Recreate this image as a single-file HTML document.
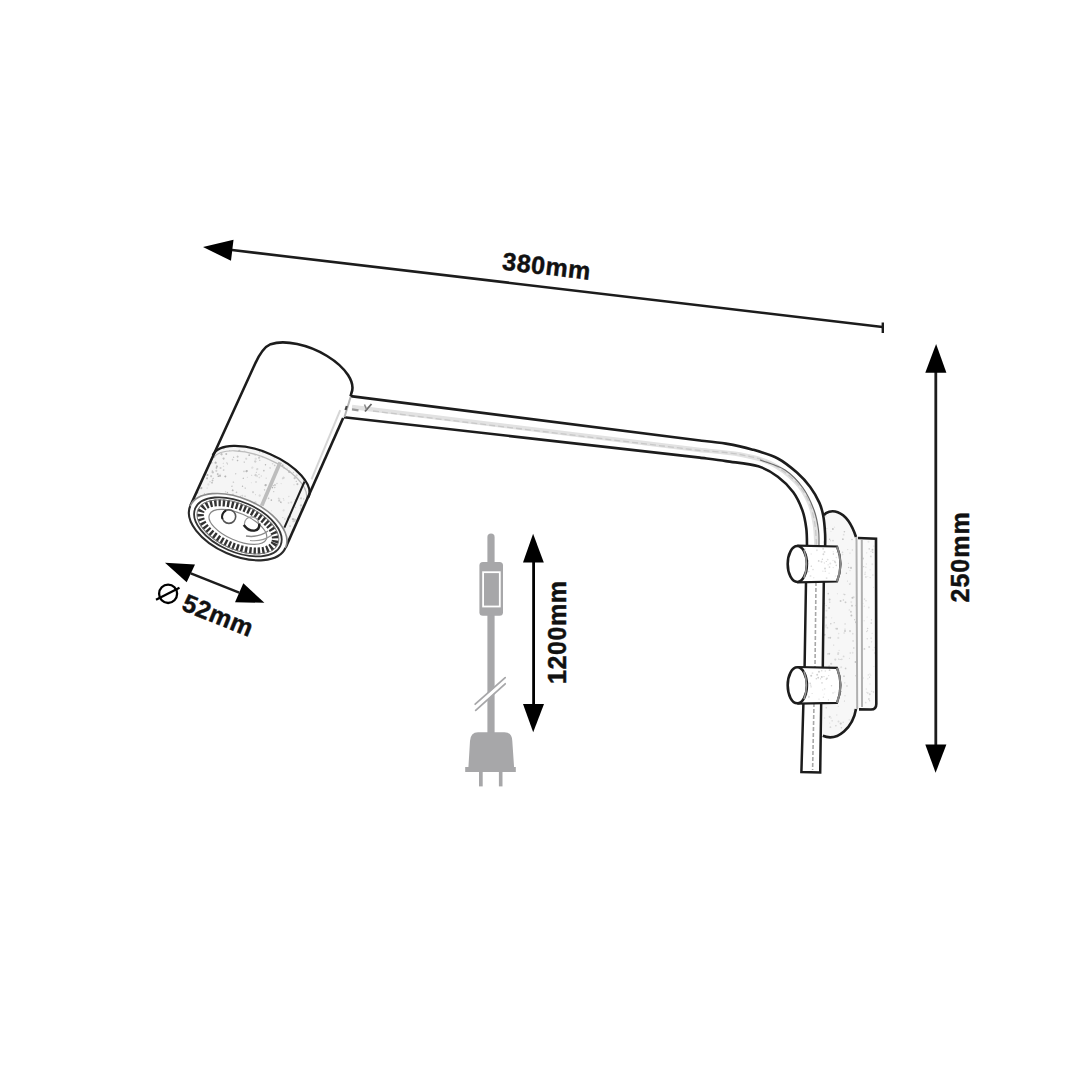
<!DOCTYPE html>
<html><head><meta charset="utf-8"><style>
html,body{margin:0;padding:0;background:#fff;}
svg{display:block;}
.t{font-family:"Liberation Sans",sans-serif;font-weight:bold;font-size:25px;fill:#111;stroke:#111;stroke-width:0.45px;}
</style></head><body>
<svg width="1080" height="1080" viewBox="0 0 1080 1080">
<rect width="1080" height="1080" fill="#fff"/>
<clipPath id="plateclip"><path d="M823.8 515.3 C828 509, 846 506, 856 537 L857 709 C853 727, 838 742, 822.8 735.8 Z"/></clipPath>
<g clip-path="url(#plateclip)"><rect x="815" y="505" width="50" height="240" fill="#f7f7f7"/><circle cx="838.3" cy="637.9" r="1.05" fill="rgb(224,224,224)"/><circle cx="838.3" cy="706.4" r="0.61" fill="rgb(227,227,227)"/><circle cx="839.1" cy="650.4" r="0.61" fill="rgb(223,223,223)"/><circle cx="832.9" cy="529.0" r="0.99" fill="rgb(197,197,197)"/><circle cx="843.4" cy="599.9" r="0.77" fill="rgb(205,205,205)"/><circle cx="844.4" cy="701.0" r="0.54" fill="rgb(197,197,197)"/><circle cx="828.8" cy="564.1" r="0.52" fill="rgb(224,224,224)"/><circle cx="833.7" cy="645.1" r="0.62" fill="rgb(209,209,209)"/><circle cx="845.1" cy="623.9" r="0.90" fill="rgb(224,224,224)"/><circle cx="845.6" cy="602.4" r="0.83" fill="rgb(200,200,200)"/><circle cx="847.5" cy="581.1" r="0.64" fill="rgb(213,213,213)"/><circle cx="823.1" cy="638.6" r="0.56" fill="rgb(201,201,201)"/><circle cx="852.5" cy="597.7" r="1.07" fill="rgb(195,195,195)"/><circle cx="829.7" cy="723.1" r="0.53" fill="rgb(219,219,219)"/><circle cx="857.3" cy="600.2" r="0.54" fill="rgb(207,207,207)"/><circle cx="850.0" cy="570.6" r="0.55" fill="rgb(216,216,216)"/><circle cx="822.5" cy="603.1" r="1.05" fill="rgb(203,203,203)"/><circle cx="830.9" cy="531.4" r="0.54" fill="rgb(226,226,226)"/><circle cx="828.4" cy="637.8" r="0.77" fill="rgb(207,207,207)"/><circle cx="857.5" cy="686.5" r="0.75" fill="rgb(219,219,219)"/><circle cx="826.2" cy="605.6" r="0.63" fill="rgb(212,212,212)"/><circle cx="853.1" cy="734.2" r="0.86" fill="rgb(196,196,196)"/><circle cx="829.6" cy="599.5" r="1.01" fill="rgb(201,201,201)"/><circle cx="823.5" cy="542.0" r="0.76" fill="rgb(195,195,195)"/><circle cx="849.8" cy="584.3" r="0.68" fill="rgb(199,199,199)"/><circle cx="824.7" cy="556.4" r="0.88" fill="rgb(195,195,195)"/><circle cx="843.6" cy="594.2" r="0.77" fill="rgb(225,225,225)"/><circle cx="852.0" cy="539.5" r="0.73" fill="rgb(204,204,204)"/><circle cx="833.2" cy="561.0" r="0.87" fill="rgb(207,207,207)"/><circle cx="827.7" cy="653.9" r="0.83" fill="rgb(219,219,219)"/><circle cx="853.8" cy="648.0" r="0.75" fill="rgb(201,201,201)"/><circle cx="825.9" cy="626.9" r="0.65" fill="rgb(220,220,220)"/><circle cx="831.3" cy="699.1" r="0.86" fill="rgb(213,213,213)"/><circle cx="840.7" cy="723.6" r="1.09" fill="rgb(203,203,203)"/><circle cx="830.2" cy="637.8" r="1.01" fill="rgb(199,199,199)"/><circle cx="832.1" cy="720.8" r="0.62" fill="rgb(196,196,196)"/><circle cx="824.5" cy="603.5" r="0.65" fill="rgb(197,197,197)"/><circle cx="828.3" cy="593.6" r="0.84" fill="rgb(203,203,203)"/><circle cx="825.3" cy="540.1" r="0.77" fill="rgb(216,216,216)"/><circle cx="845.6" cy="668.4" r="0.85" fill="rgb(203,203,203)"/><circle cx="843.2" cy="722.3" r="0.78" fill="rgb(217,217,217)"/><circle cx="847.2" cy="731.4" r="0.51" fill="rgb(199,199,199)"/><circle cx="839.4" cy="677.5" r="0.69" fill="rgb(199,199,199)"/><circle cx="824.7" cy="634.7" r="0.94" fill="rgb(203,203,203)"/><circle cx="850.6" cy="720.3" r="0.71" fill="rgb(225,225,225)"/><circle cx="854.4" cy="710.1" r="0.75" fill="rgb(196,196,196)"/><circle cx="853.1" cy="640.9" r="0.87" fill="rgb(219,219,219)"/><circle cx="835.7" cy="510.9" r="0.54" fill="rgb(200,200,200)"/><circle cx="845.0" cy="738.5" r="1.03" fill="rgb(216,216,216)"/><circle cx="836.0" cy="678.5" r="0.85" fill="rgb(223,223,223)"/><circle cx="838.7" cy="633.6" r="0.81" fill="rgb(227,227,227)"/><circle cx="823.1" cy="647.5" r="0.79" fill="rgb(209,209,209)"/><circle cx="856.5" cy="534.2" r="0.97" fill="rgb(226,226,226)"/><circle cx="831.2" cy="510.6" r="0.68" fill="rgb(207,207,207)"/><circle cx="840.7" cy="682.9" r="0.71" fill="rgb(223,223,223)"/><circle cx="839.9" cy="564.0" r="0.74" fill="rgb(211,211,211)"/><circle cx="829.1" cy="608.0" r="0.98" fill="rgb(207,207,207)"/><circle cx="853.7" cy="597.2" r="0.85" fill="rgb(215,215,215)"/><circle cx="829.6" cy="539.2" r="0.71" fill="rgb(197,197,197)"/><circle cx="847.6" cy="728.4" r="0.67" fill="rgb(205,205,205)"/><circle cx="826.1" cy="617.4" r="1.06" fill="rgb(221,221,221)"/><circle cx="835.8" cy="628.6" r="0.90" fill="rgb(223,223,223)"/><circle cx="833.5" cy="700.3" r="0.67" fill="rgb(197,197,197)"/><circle cx="846.4" cy="573.2" r="0.71" fill="rgb(196,196,196)"/><circle cx="845.1" cy="602.0" r="0.61" fill="rgb(212,212,212)"/><circle cx="830.5" cy="540.7" r="0.53" fill="rgb(202,202,202)"/><circle cx="838.1" cy="654.2" r="0.89" fill="rgb(218,218,218)"/><circle cx="856.5" cy="666.8" r="0.62" fill="rgb(225,225,225)"/><circle cx="831.2" cy="673.7" r="0.95" fill="rgb(229,229,229)"/><circle cx="847.7" cy="549.6" r="0.66" fill="rgb(217,217,217)"/><circle cx="841.4" cy="727.7" r="0.80" fill="rgb(205,205,205)"/><circle cx="836.2" cy="691.7" r="1.04" fill="rgb(200,200,200)"/><circle cx="836.8" cy="715.1" r="0.73" fill="rgb(223,223,223)"/><circle cx="838.3" cy="653.1" r="1.05" fill="rgb(219,219,219)"/><circle cx="841.8" cy="659.4" r="0.80" fill="rgb(216,216,216)"/><circle cx="838.7" cy="659.1" r="0.62" fill="rgb(202,202,202)"/><circle cx="829.7" cy="716.8" r="1.09" fill="rgb(214,214,214)"/><circle cx="841.3" cy="691.5" r="0.69" fill="rgb(196,196,196)"/><circle cx="834.5" cy="527.2" r="0.76" fill="rgb(230,230,230)"/><circle cx="837.2" cy="571.9" r="1.05" fill="rgb(208,208,208)"/><circle cx="851.1" cy="522.9" r="0.98" fill="rgb(206,206,206)"/><circle cx="841.2" cy="667.3" r="1.05" fill="rgb(225,225,225)"/><circle cx="827.4" cy="627.8" r="0.93" fill="rgb(223,223,223)"/><circle cx="856.0" cy="622.3" r="1.07" fill="rgb(200,200,200)"/><circle cx="849.3" cy="609.9" r="0.84" fill="rgb(230,230,230)"/><circle cx="845.0" cy="629.3" r="1.01" fill="rgb(230,230,230)"/><circle cx="831.2" cy="663.7" r="1.07" fill="rgb(208,208,208)"/><circle cx="833.0" cy="540.7" r="0.83" fill="rgb(212,212,212)"/><circle cx="842.6" cy="554.6" r="0.82" fill="rgb(227,227,227)"/><circle cx="822.2" cy="595.5" r="0.82" fill="rgb(197,197,197)"/><circle cx="840.6" cy="600.9" r="0.98" fill="rgb(202,202,202)"/><circle cx="839.7" cy="668.3" r="0.54" fill="rgb(229,229,229)"/><circle cx="838.5" cy="721.6" r="0.98" fill="rgb(220,220,220)"/><circle cx="831.7" cy="617.8" r="0.58" fill="rgb(222,222,222)"/><circle cx="854.4" cy="725.1" r="1.05" fill="rgb(228,228,228)"/><circle cx="833.4" cy="552.4" r="0.87" fill="rgb(211,211,211)"/><circle cx="826.7" cy="688.8" r="0.51" fill="rgb(207,207,207)"/><circle cx="827.6" cy="510.7" r="0.67" fill="rgb(217,217,217)"/><circle cx="830.8" cy="623.7" r="0.80" fill="rgb(202,202,202)"/><circle cx="852.7" cy="652.7" r="0.93" fill="rgb(228,228,228)"/><circle cx="853.6" cy="513.4" r="0.88" fill="rgb(228,228,228)"/><circle cx="844.2" cy="632.9" r="1.02" fill="rgb(229,229,229)"/><circle cx="845.0" cy="630.9" r="1.01" fill="rgb(203,203,203)"/><circle cx="830.4" cy="679.9" r="0.99" fill="rgb(206,206,206)"/><circle cx="833.4" cy="581.1" r="1.05" fill="rgb(208,208,208)"/><circle cx="850.0" cy="553.1" r="0.56" fill="rgb(210,210,210)"/><circle cx="826.8" cy="528.4" r="0.73" fill="rgb(222,222,222)"/><circle cx="852.0" cy="605.8" r="0.97" fill="rgb(203,203,203)"/><circle cx="829.2" cy="653.7" r="0.98" fill="rgb(201,201,201)"/><circle cx="829.2" cy="666.3" r="1.05" fill="rgb(218,218,218)"/><circle cx="826.2" cy="625.3" r="0.95" fill="rgb(227,227,227)"/><circle cx="857.9" cy="701.2" r="0.98" fill="rgb(225,225,225)"/><circle cx="825.8" cy="516.7" r="0.83" fill="rgb(227,227,227)"/><circle cx="854.6" cy="619.7" r="0.61" fill="rgb(202,202,202)"/><circle cx="829.3" cy="702.9" r="1.09" fill="rgb(201,201,201)"/><circle cx="842.9" cy="539.2" r="0.91" fill="rgb(199,199,199)"/><circle cx="849.5" cy="583.8" r="0.78" fill="rgb(227,227,227)"/><circle cx="834.8" cy="556.7" r="0.72" fill="rgb(197,197,197)"/><circle cx="852.4" cy="550.1" r="0.77" fill="rgb(218,218,218)"/><circle cx="836.6" cy="553.3" r="0.60" fill="rgb(227,227,227)"/><circle cx="850.5" cy="583.1" r="0.55" fill="rgb(220,220,220)"/><circle cx="842.5" cy="552.3" r="0.85" fill="rgb(216,216,216)"/><circle cx="851.0" cy="567.9" r="1.05" fill="rgb(205,205,205)"/><circle cx="851.3" cy="602.1" r="1.04" fill="rgb(229,229,229)"/><circle cx="847.0" cy="686.0" r="0.96" fill="rgb(220,220,220)"/><circle cx="829.4" cy="550.9" r="0.98" fill="rgb(214,214,214)"/><circle cx="838.9" cy="510.5" r="0.71" fill="rgb(198,198,198)"/><circle cx="830.4" cy="727.2" r="0.90" fill="rgb(216,216,216)"/><circle cx="829.8" cy="602.2" r="0.61" fill="rgb(199,199,199)"/><circle cx="836.0" cy="740.0" r="0.89" fill="rgb(202,202,202)"/><circle cx="849.4" cy="735.4" r="0.51" fill="rgb(201,201,201)"/><circle cx="848.6" cy="567.5" r="0.74" fill="rgb(198,198,198)"/><circle cx="849.4" cy="658.3" r="0.51" fill="rgb(211,211,211)"/><circle cx="831.0" cy="718.1" r="0.83" fill="rgb(227,227,227)"/><circle cx="837.0" cy="628.8" r="1.01" fill="rgb(201,201,201)"/><circle cx="845.0" cy="695.8" r="0.55" fill="rgb(197,197,197)"/><circle cx="835.9" cy="725.8" r="0.73" fill="rgb(205,205,205)"/><circle cx="852.8" cy="633.7" r="0.86" fill="rgb(222,222,222)"/><circle cx="856.0" cy="605.6" r="0.82" fill="rgb(214,214,214)"/><circle cx="835.2" cy="574.3" r="0.89" fill="rgb(230,230,230)"/><circle cx="855.5" cy="662.0" r="0.95" fill="rgb(196,196,196)"/><circle cx="822.5" cy="564.8" r="0.53" fill="rgb(205,205,205)"/><circle cx="836.7" cy="666.8" r="0.53" fill="rgb(215,215,215)"/><circle cx="848.9" cy="519.6" r="1.09" fill="rgb(215,215,215)"/><circle cx="824.6" cy="718.1" r="0.76" fill="rgb(225,225,225)"/><circle cx="831.0" cy="683.3" r="0.53" fill="rgb(201,201,201)"/><circle cx="855.7" cy="675.7" r="0.78" fill="rgb(210,210,210)"/><circle cx="843.7" cy="534.7" r="0.87" fill="rgb(224,224,224)"/><circle cx="826.2" cy="707.8" r="0.71" fill="rgb(204,204,204)"/><circle cx="826.5" cy="610.7" r="0.90" fill="rgb(224,224,224)"/><circle cx="843.6" cy="656.4" r="0.91" fill="rgb(218,218,218)"/><circle cx="850.0" cy="631.1" r="1.10" fill="rgb(213,213,213)"/><circle cx="848.4" cy="563.3" r="0.57" fill="rgb(214,214,214)"/><circle cx="850.2" cy="653.0" r="0.72" fill="rgb(212,212,212)"/><circle cx="844.0" cy="676.2" r="0.92" fill="rgb(207,207,207)"/><circle cx="844.8" cy="682.8" r="0.61" fill="rgb(210,210,210)"/><circle cx="840.1" cy="659.5" r="0.62" fill="rgb(197,197,197)"/><circle cx="844.6" cy="510.2" r="0.66" fill="rgb(196,196,196)"/><circle cx="844.4" cy="531.8" r="0.82" fill="rgb(199,199,199)"/><circle cx="849.2" cy="719.8" r="0.60" fill="rgb(210,210,210)"/><circle cx="844.7" cy="594.6" r="0.79" fill="rgb(208,208,208)"/><circle cx="834.2" cy="622.7" r="0.58" fill="rgb(199,199,199)"/><circle cx="850.9" cy="611.8" r="0.99" fill="rgb(208,208,208)"/><circle cx="838.0" cy="681.4" r="0.73" fill="rgb(204,204,204)"/><circle cx="835.3" cy="659.6" r="1.09" fill="rgb(215,215,215)"/><circle cx="832.5" cy="684.1" r="1.00" fill="rgb(206,206,206)"/><circle cx="837.4" cy="593.7" r="0.56" fill="rgb(215,215,215)"/><circle cx="824.8" cy="527.3" r="0.84" fill="rgb(226,226,226)"/><circle cx="851.4" cy="615.5" r="0.99" fill="rgb(195,195,195)"/><circle cx="824.7" cy="557.5" r="0.90" fill="rgb(200,200,200)"/></g>
<rect x="858" y="539" width="17" height="170" fill="#fafafa"/><circle cx="871.3" cy="623.1" r="0.88" fill="rgb(215,215,215)"/><circle cx="866.4" cy="564.0" r="0.68" fill="rgb(228,228,228)"/><circle cx="866.9" cy="692.3" r="0.66" fill="rgb(219,219,219)"/><circle cx="869.8" cy="694.3" r="0.97" fill="rgb(213,213,213)"/><circle cx="868.3" cy="674.9" r="0.65" fill="rgb(215,215,215)"/><circle cx="865.7" cy="702.6" r="0.86" fill="rgb(221,221,221)"/><circle cx="866.0" cy="600.8" r="0.68" fill="rgb(216,216,216)"/><circle cx="871.1" cy="638.2" r="0.90" fill="rgb(228,228,228)"/><circle cx="869.8" cy="673.9" r="0.77" fill="rgb(231,231,231)"/><circle cx="870.1" cy="569.8" r="0.54" fill="rgb(219,219,219)"/><circle cx="873.6" cy="587.3" r="0.51" fill="rgb(221,221,221)"/><circle cx="863.7" cy="566.7" r="0.65" fill="rgb(205,205,205)"/><circle cx="870.8" cy="675.1" r="0.53" fill="rgb(222,222,222)"/><circle cx="866.7" cy="631.6" r="0.67" fill="rgb(213,213,213)"/><circle cx="871.8" cy="691.0" r="0.54" fill="rgb(225,225,225)"/><circle cx="870.8" cy="556.4" r="0.91" fill="rgb(218,218,218)"/><circle cx="865.9" cy="577.0" r="0.88" fill="rgb(221,221,221)"/><circle cx="867.1" cy="617.1" r="0.68" fill="rgb(230,230,230)"/><circle cx="874.6" cy="653.0" r="0.75" fill="rgb(222,222,222)"/><circle cx="872.7" cy="552.2" r="0.81" fill="rgb(206,206,206)"/><circle cx="867.9" cy="678.8" r="0.83" fill="rgb(232,232,232)"/><circle cx="863.0" cy="603.5" r="0.54" fill="rgb(219,219,219)"/><circle cx="874.5" cy="647.6" r="0.76" fill="rgb(227,227,227)"/><circle cx="863.1" cy="558.5" r="0.96" fill="rgb(209,209,209)"/><circle cx="865.9" cy="567.3" r="0.82" fill="rgb(226,226,226)"/><circle cx="865.0" cy="574.3" r="0.71" fill="rgb(214,214,214)"/><circle cx="866.3" cy="688.9" r="0.74" fill="rgb(228,228,228)"/><circle cx="864.4" cy="648.9" r="0.89" fill="rgb(210,210,210)"/><circle cx="873.9" cy="666.5" r="0.51" fill="rgb(220,220,220)"/><circle cx="873.9" cy="546.1" r="0.55" fill="rgb(210,210,210)"/><circle cx="867.3" cy="638.8" r="0.80" fill="rgb(220,220,220)"/><circle cx="870.1" cy="577.6" r="0.59" fill="rgb(213,213,213)"/><circle cx="867.8" cy="693.0" r="0.97" fill="rgb(225,225,225)"/><circle cx="869.6" cy="677.3" r="0.74" fill="rgb(213,213,213)"/><circle cx="868.8" cy="607.6" r="0.98" fill="rgb(226,226,226)"/><circle cx="869.6" cy="700.8" r="0.74" fill="rgb(212,212,212)"/><circle cx="867.8" cy="576.5" r="0.57" fill="rgb(230,230,230)"/><circle cx="867.6" cy="628.6" r="0.76" fill="rgb(213,213,213)"/><circle cx="872.5" cy="549.7" r="0.96" fill="rgb(205,205,205)"/><circle cx="873.5" cy="692.1" r="0.73" fill="rgb(212,212,212)"/><circle cx="871.6" cy="641.8" r="0.58" fill="rgb(210,210,210)"/><circle cx="872.3" cy="564.3" r="0.95" fill="rgb(230,230,230)"/><circle cx="869.2" cy="647.0" r="1.00" fill="rgb(213,213,213)"/><circle cx="869.2" cy="548.9" r="0.79" fill="rgb(210,210,210)"/><circle cx="863.0" cy="678.0" r="0.92" fill="rgb(231,231,231)"/><circle cx="864.5" cy="599.1" r="0.81" fill="rgb(221,221,221)"/><circle cx="864.2" cy="620.7" r="0.73" fill="rgb(228,228,228)"/><circle cx="870.0" cy="684.0" r="0.65" fill="rgb(230,230,230)"/><circle cx="865.3" cy="572.4" r="0.84" fill="rgb(230,230,230)"/><circle cx="872.9" cy="575.0" r="0.77" fill="rgb(221,221,221)"/><circle cx="868.9" cy="699.0" r="0.98" fill="rgb(215,215,215)"/><circle cx="866.7" cy="552.8" r="0.65" fill="rgb(219,219,219)"/><circle cx="871.0" cy="551.3" r="0.54" fill="rgb(209,209,209)"/><circle cx="864.3" cy="606.2" r="0.73" fill="rgb(230,230,230)"/><circle cx="873.0" cy="649.9" r="0.51" fill="rgb(217,217,217)"/><circle cx="871.5" cy="619.8" r="0.65" fill="rgb(208,208,208)"/><circle cx="868.5" cy="541.8" r="1.00" fill="rgb(230,230,230)"/><circle cx="871.6" cy="691.5" r="0.58" fill="rgb(225,225,225)"/><circle cx="867.5" cy="630.7" r="0.65" fill="rgb(215,215,215)"/><circle cx="872.1" cy="633.3" r="0.54" fill="rgb(211,211,211)"/>
<line x1="230" y1="249.8" x2="882.5" y2="327" stroke="#1c1c1c" stroke-width="2.6"/>
<polygon points="203,247 233.5,239.8 231,260.8" fill="#000"/>
<line x1="882.8" y1="322.5" x2="882.8" y2="333" stroke="#1c1c1c" stroke-width="2.4"/>
<text x="0" y="0" transform="translate(501.5 269.5) rotate(6.76)" class="t" textLength="88.5" lengthAdjust="spacing">380mm</text>
<line x1="935.8" y1="370" x2="935.8" y2="746" stroke="#1c1c1c" stroke-width="2.8"/>
<polygon points="936.1,343.9 946.4,372.8 925.3,372.8" fill="#000"/>
<polygon points="925.3,744.4 946.4,744.4 935.6,772.8" fill="#000"/>
<text x="0" y="0" transform="translate(968.9 602.5) rotate(-90)" class="t" textLength="90.3" lengthAdjust="spacing">250mm</text>
<line x1="533.6" y1="560" x2="533.6" y2="706" stroke="#000" stroke-width="2.8"/>
<polygon points="533.1,533.8 543.8,562.5 523,562.5" fill="#000"/>
<polygon points="523,703.9 544,703.9 533.2,732.2" fill="#000"/>
<text x="0" y="0" transform="translate(565.6 684) rotate(-90)" class="t" textLength="103.1" lengthAdjust="spacing">1200mm</text>
<line x1="190.8" y1="573.3" x2="239.2" y2="592.7" stroke="#1c1c1c" stroke-width="2.5"/>
<polygon points="165,562.8 195,564.4 186.7,582.2" fill="#000"/>
<polygon points="264.4,602.8 243.3,583.3 235,602.2" fill="#000"/>
<ellipse cx="168.1" cy="593.8" rx="9" ry="9.2" fill="none" stroke="#000" stroke-width="2.3"/>
<line x1="156" y1="599.8" x2="179.5" y2="587.8" stroke="#000" stroke-width="2.2"/>
<text x="0" y="0" transform="translate(180.5 609.5) rotate(22)" class="t" textLength="73.8" lengthAdjust="spacing">52mm</text>
<line x1="491" y1="537" x2="491" y2="735" stroke="#a7a7a9" stroke-width="7.2" stroke-linecap="round"/>
<rect x="479.4" y="562" width="23.6" height="53.7" rx="3.5" fill="#a7a7a9"/>
<rect x="483.1" y="572.2" width="16.7" height="34.3" fill="none" stroke="#fff" stroke-width="1.8"/>
<line x1="475.5" y1="707.2" x2="505.2" y2="680.7" stroke="#fff" stroke-width="4.2"/>
<line x1="475.2" y1="704.2" x2="505.2" y2="677.7" stroke="#a7a7a9" stroke-width="1.8" stroke-linecap="round"/>
<line x1="475.7" y1="710.3" x2="505.2" y2="683.8" stroke="#a7a7a9" stroke-width="1.8" stroke-linecap="round"/>
<path d="M468.3 769 L470 741 Q470.5 732.2 478 732.2 L504.5 732.2 Q512 732.2 512.3 741 L514.2 769 Z" fill="#a7a7a9"/>
<rect x="465.2" y="767" width="50.6" height="5" fill="#a7a7a9"/>
<rect x="479" y="771" width="3.7" height="15.4" fill="#a7a7a9"/>
<rect x="498.9" y="771" width="3.6" height="15.4" fill="#a7a7a9"/>
<path d="M350.6 396.1 L700 440.5 C 704.3 441.0 717.2 442.1 725.9 443.6 C 734.5 445.1 743.2 446.9 751.9 449.4 C 760.5 451.9 770.2 454.6 777.8 458.5 C 785.3 462.4 791.8 468.1 797.2 472.8 C 802.6 477.6 806.5 482.0 810.2 487.0 C 813.9 492.0 817.1 497.8 819.3 502.6 C 821.5 507.4 822.2 510.4 823.2 515.6 C 824.2 520.8 824.8 528.5 825.1 533.7 C 825.4 538.9 825.1 544.8 825.1 547.0 " fill="none" stroke="#1c1c1c" stroke-width="2.6"/>
<path d="M343.9 417.2 L700 457.6 C 704.3 458.2 716.2 459.7 725.9 461.1 C 735.6 462.6 749.6 463.7 758.3 466.3 C 766.9 468.9 772.0 472.4 777.8 476.7 C 783.6 481.0 789.2 486.6 793.3 492.2 C 797.4 497.8 800.2 504.3 802.4 510.4 C 804.6 516.4 805.5 522.4 806.3 528.5 C 807.1 534.6 806.9 543.9 807.0 547.0 " fill="none" stroke="#1c1c1c" stroke-width="2.6"/>
<path d="M352 407 L700 450 C 706.7 450.8 728.3 452.3 740.0 454.5 C 751.7 456.7 760.8 458.6 770.0 463.0 C 779.2 467.4 788.5 474.5 795.0 481.0 C 801.5 487.5 805.7 494.7 809.0 502.0 C 812.3 509.3 813.8 517.5 815.0 525.0 C 816.2 532.5 816.2 543.3 816.5 547.0 " fill="none" stroke="#e2e2e2" stroke-width="4.5"/>
<path d="M373 411 L700 450.5 C 706.7 450.8 728.3 452.3 740.0 454.5 C 751.7 456.7 760.8 458.6 770.0 463.0 C 779.2 467.4 788.5 474.5 795.0 481.0 C 801.5 487.5 805.7 494.7 809.0 502.0 C 812.3 509.3 813.8 517.5 815.0 525.0 C 816.2 532.5 816.2 543.3 816.5 547.0 " fill="none" stroke="#c8c8c8" stroke-width="1.3" stroke-dasharray="6 3"/>
<path d="M 760.0 460.0 C 764.2 461.7 777.8 465.3 785.0 470.0 C 792.2 474.7 798.2 481.3 803.0 488.0 C 807.8 494.7 811.4 503.0 814.0 510.0 C 816.6 517.0 817.7 523.8 818.5 530.0 C 819.3 536.2 818.9 544.2 819.0 547.0 " fill="none" stroke="#6a6a6a" stroke-width="1.2"/>
<path d="M350.6 397 L344.5 417" fill="none" stroke="#b5b5b5" stroke-width="2"/>
<path d="M346.8 406 L345.5 410" fill="none" stroke="#444" stroke-width="2.2"/>
<path d="M365 411.5 L371.5 404" fill="none" stroke="#666" stroke-width="1.8"/>
<path d="M364.5 404.5 L366.5 409.5" fill="none" stroke="#888" stroke-width="1.5"/>
<path d="M352 409.3 L358.5 410.3" fill="none" stroke="#999" stroke-width="2.2"/>
<path d="M806 582 L804.6 667 M803.4 703 L801.4 772 L820.2 772.5 L821.2 703 M822.8 667 L823.8 582" fill="none" stroke="#1c1c1c" stroke-width="2.5"/>
<path d="M816 582 L815 667 M814 703 L812.6 770" fill="none" stroke="#a8a8a8" stroke-width="1.6" stroke-dasharray="4 2"/>
<path d="M823.8 515.3 C828 509, 846 506, 856 537" fill="none" stroke="#1c1c1c" stroke-width="2.6"/>
<path d="M856 709 C853 727, 838 742, 822.8 735.8" fill="none" stroke="#1c1c1c" stroke-width="2.6"/>
<path d="M856.5 537 L857.2 709 M861.8 540 L862 707" fill="none" stroke="#b0b0b0" stroke-width="2"/>
<path d="M858 538 L876 538.7 L876.3 704 Q876.3 709.5 871 709.5 L859 709.4" fill="none" stroke="#1c1c1c" stroke-width="2.6"/>
<path d="M797.3 545.7 L837 546.5 Q844 564 837 581.5 L797.3 582.3" fill="#fff" stroke="#1c1c1c" stroke-width="2.2"/>
<circle cx="808.8" cy="571.4" r="0.66" fill="rgb(217,217,217)"/><circle cx="822.9" cy="571.2" r="0.67" fill="rgb(224,224,224)"/><circle cx="804.6" cy="552.5" r="0.55" fill="rgb(211,211,211)"/><circle cx="808.0" cy="560.9" r="0.92" fill="rgb(205,205,205)"/><circle cx="804.9" cy="549.0" r="0.99" fill="rgb(227,227,227)"/><circle cx="816.9" cy="550.3" r="0.96" fill="rgb(227,227,227)"/><circle cx="837.1" cy="552.4" r="0.60" fill="rgb(209,209,209)"/><circle cx="833.0" cy="560.4" r="0.67" fill="rgb(226,226,226)"/><circle cx="825.3" cy="571.3" r="0.81" fill="rgb(220,220,220)"/><circle cx="839.3" cy="573.3" r="0.83" fill="rgb(201,201,201)"/><circle cx="811.2" cy="554.0" r="0.65" fill="rgb(228,228,228)"/><circle cx="805.1" cy="560.1" r="0.75" fill="rgb(218,218,218)"/><circle cx="833.2" cy="567.6" r="0.58" fill="rgb(219,219,219)"/><circle cx="822.4" cy="559.3" r="0.75" fill="rgb(209,209,209)"/><circle cx="823.4" cy="554.3" r="0.97" fill="rgb(212,212,212)"/><circle cx="823.1" cy="548.9" r="0.83" fill="rgb(205,205,205)"/><circle cx="806.3" cy="563.3" r="0.71" fill="rgb(221,221,221)"/><circle cx="813.8" cy="577.7" r="0.68" fill="rgb(229,229,229)"/><circle cx="835.4" cy="562.5" r="0.86" fill="rgb(215,215,215)"/><circle cx="836.3" cy="565.4" r="0.78" fill="rgb(216,216,216)"/><circle cx="807.6" cy="571.9" r="0.95" fill="rgb(221,221,221)"/><circle cx="824.5" cy="551.9" r="0.91" fill="rgb(218,218,218)"/><circle cx="827.7" cy="559.6" r="0.88" fill="rgb(223,223,223)"/><circle cx="833.4" cy="553.9" r="0.77" fill="rgb(204,204,204)"/><circle cx="818.7" cy="560.9" r="0.89" fill="rgb(208,208,208)"/><circle cx="813.0" cy="569.5" r="0.87" fill="rgb(224,224,224)"/><circle cx="825.0" cy="568.5" r="0.88" fill="rgb(210,210,210)"/><circle cx="808.8" cy="563.0" r="0.57" fill="rgb(224,224,224)"/><circle cx="805.6" cy="561.0" r="0.67" fill="rgb(208,208,208)"/><circle cx="811.3" cy="566.2" r="0.67" fill="rgb(202,202,202)"/><circle cx="829.1" cy="573.2" r="0.70" fill="rgb(231,231,231)"/><circle cx="824.4" cy="563.0" r="0.71" fill="rgb(226,226,226)"/><circle cx="830.3" cy="563.5" r="1.00" fill="rgb(226,226,226)"/><circle cx="833.2" cy="551.8" r="0.56" fill="rgb(221,221,221)"/><circle cx="821.5" cy="561.8" r="0.95" fill="rgb(220,220,220)"/><circle cx="836.4" cy="557.5" r="0.81" fill="rgb(227,227,227)"/><circle cx="829.5" cy="567.1" r="0.88" fill="rgb(219,219,219)"/><circle cx="835.4" cy="576.1" r="0.62" fill="rgb(228,228,228)"/><circle cx="810.5" cy="575.9" r="0.99" fill="rgb(230,230,230)"/><circle cx="828.1" cy="564.8" r="0.62" fill="rgb(219,219,219)"/><circle cx="826.6" cy="578.1" r="0.94" fill="rgb(223,223,223)"/><circle cx="834.8" cy="561.5" r="0.90" fill="rgb(214,214,214)"/><circle cx="826.3" cy="561.5" r="0.56" fill="rgb(204,204,204)"/><circle cx="804.8" cy="573.4" r="0.56" fill="rgb(229,229,229)"/><circle cx="801.0" cy="555.8" r="0.65" fill="rgb(220,220,220)"/>
<path d="M837 546.5 Q844 564 837 581.5" fill="none" stroke="#8a8a8a" stroke-width="2"/>
<ellipse cx="797.3" cy="564" rx="9.6" ry="18" fill="#fff" stroke="#1c1c1c" stroke-width="2.6"/>
<path d="M804 550 Q809 564 804 578" fill="none" stroke="#9a9a9a" stroke-width="1.5"/>
<path d="M797.3 667.0 L837 667.8 Q844 685.3 837 702.8 L797.3 703.5999999999999" fill="#fff" stroke="#1c1c1c" stroke-width="2.2"/>
<circle cx="807.7" cy="683.4" r="0.73" fill="rgb(225,225,225)"/><circle cx="806.5" cy="691.5" r="0.62" fill="rgb(219,219,219)"/><circle cx="802.2" cy="698.1" r="0.65" fill="rgb(231,231,231)"/><circle cx="806.6" cy="694.2" r="0.89" fill="rgb(213,213,213)"/><circle cx="808.9" cy="696.8" r="0.85" fill="rgb(203,203,203)"/><circle cx="808.6" cy="696.1" r="0.68" fill="rgb(230,230,230)"/><circle cx="801.6" cy="689.6" r="0.85" fill="rgb(212,212,212)"/><circle cx="821.8" cy="676.9" r="0.97" fill="rgb(203,203,203)"/><circle cx="826.4" cy="679.1" r="0.91" fill="rgb(217,217,217)"/><circle cx="834.9" cy="692.1" r="0.57" fill="rgb(228,228,228)"/><circle cx="817.2" cy="674.7" r="0.93" fill="rgb(207,207,207)"/><circle cx="828.7" cy="675.6" r="0.59" fill="rgb(215,215,215)"/><circle cx="820.6" cy="678.8" r="0.64" fill="rgb(207,207,207)"/><circle cx="824.0" cy="676.6" r="0.65" fill="rgb(211,211,211)"/><circle cx="827.0" cy="678.2" r="0.82" fill="rgb(205,205,205)"/><circle cx="819.0" cy="671.7" r="0.96" fill="rgb(204,204,204)"/><circle cx="821.7" cy="670.8" r="0.80" fill="rgb(218,218,218)"/><circle cx="822.0" cy="682.9" r="0.78" fill="rgb(210,210,210)"/><circle cx="812.1" cy="693.5" r="0.62" fill="rgb(217,217,217)"/><circle cx="829.6" cy="670.2" r="0.90" fill="rgb(209,209,209)"/><circle cx="839.5" cy="670.4" r="0.73" fill="rgb(224,224,224)"/><circle cx="801.1" cy="697.8" r="0.53" fill="rgb(204,204,204)"/><circle cx="822.7" cy="689.9" r="0.68" fill="rgb(230,230,230)"/><circle cx="831.5" cy="685.8" r="0.75" fill="rgb(211,211,211)"/><circle cx="824.2" cy="694.0" r="0.56" fill="rgb(227,227,227)"/><circle cx="810.2" cy="683.4" r="0.89" fill="rgb(215,215,215)"/><circle cx="811.1" cy="686.7" r="0.93" fill="rgb(231,231,231)"/><circle cx="811.2" cy="675.8" r="0.99" fill="rgb(203,203,203)"/><circle cx="823.3" cy="697.2" r="0.59" fill="rgb(209,209,209)"/><circle cx="824.7" cy="688.8" r="0.90" fill="rgb(232,232,232)"/><circle cx="818.2" cy="677.7" r="0.90" fill="rgb(204,204,204)"/><circle cx="805.5" cy="675.0" r="0.82" fill="rgb(215,215,215)"/><circle cx="825.3" cy="671.0" r="0.71" fill="rgb(220,220,220)"/><circle cx="833.0" cy="692.9" r="0.89" fill="rgb(231,231,231)"/><circle cx="804.5" cy="695.6" r="0.59" fill="rgb(216,216,216)"/><circle cx="810.7" cy="685.2" r="0.83" fill="rgb(229,229,229)"/><circle cx="803.4" cy="682.4" r="0.68" fill="rgb(213,213,213)"/><circle cx="828.4" cy="699.9" r="0.56" fill="rgb(208,208,208)"/><circle cx="806.6" cy="683.9" r="0.87" fill="rgb(202,202,202)"/><circle cx="801.1" cy="682.4" r="0.76" fill="rgb(205,205,205)"/><circle cx="816.3" cy="678.8" r="0.71" fill="rgb(204,204,204)"/><circle cx="838.9" cy="691.1" r="0.86" fill="rgb(214,214,214)"/><circle cx="812.5" cy="673.1" r="0.93" fill="rgb(226,226,226)"/><circle cx="819.0" cy="699.1" r="0.68" fill="rgb(221,221,221)"/><circle cx="837.9" cy="698.8" r="0.61" fill="rgb(210,210,210)"/>
<path d="M837 667.8 Q844 685.3 837 702.8" fill="none" stroke="#8a8a8a" stroke-width="2"/>
<ellipse cx="797.3" cy="685.3" rx="9.6" ry="18" fill="#fff" stroke="#1c1c1c" stroke-width="2.6"/>
<path d="M804 671.3 Q809 685.3 804 699.3" fill="none" stroke="#9a9a9a" stroke-width="1.5"/>
<g transform="translate(238.8 529.4) rotate(23.67)"><clipPath id="bandclip"><path d="M-53.6 -57.3 A52.3 24.3 0 0 1 51 -57.3 L50.2 -2 A52 28.5 0 0 0 -53.84 -1.94 Z"/></clipPath><g clip-path="url(#bandclip)"><rect x="-60" y="-90" width="120" height="95" fill="#f5f5f5"/><circle cx="-20.3" cy="-72.2" r="0.96" fill="rgb(184,184,184)"/><circle cx="32.9" cy="-77.0" r="0.91" fill="rgb(212,212,212)"/><circle cx="-32.0" cy="-77.7" r="0.79" fill="rgb(195,195,195)"/><circle cx="-45.3" cy="-48.9" r="1.08" fill="rgb(187,187,187)"/><circle cx="46.4" cy="-31.4" r="0.91" fill="rgb(183,183,183)"/><circle cx="6.8" cy="-51.3" r="1.18" fill="rgb(182,182,182)"/><circle cx="4.6" cy="-73.7" r="0.79" fill="rgb(214,214,214)"/><circle cx="-42.4" cy="-58.8" r="1.07" fill="rgb(191,191,191)"/><circle cx="-44.0" cy="-36.4" r="0.63" fill="rgb(186,186,186)"/><circle cx="3.6" cy="-79.7" r="0.54" fill="rgb(193,193,193)"/><circle cx="-1.9" cy="-39.8" r="1.04" fill="rgb(209,209,209)"/><circle cx="7.7" cy="-46.5" r="0.71" fill="rgb(191,191,191)"/><circle cx="19.8" cy="-64.3" r="0.90" fill="rgb(213,213,213)"/><circle cx="-2.0" cy="-55.8" r="0.81" fill="rgb(218,218,218)"/><circle cx="49.9" cy="-75.0" r="0.79" fill="rgb(201,201,201)"/><circle cx="-38.7" cy="-43.4" r="0.53" fill="rgb(222,222,222)"/><circle cx="-46.7" cy="-37.6" r="1.05" fill="rgb(200,200,200)"/><circle cx="-18.6" cy="-55.2" r="0.85" fill="rgb(209,209,209)"/><circle cx="-47.6" cy="-77.0" r="0.69" fill="rgb(224,224,224)"/><circle cx="16.1" cy="-79.8" r="0.99" fill="rgb(221,221,221)"/><circle cx="6.8" cy="-27.1" r="0.81" fill="rgb(225,225,225)"/><circle cx="-13.7" cy="-28.2" r="0.52" fill="rgb(209,209,209)"/><circle cx="-17.0" cy="-33.1" r="0.85" fill="rgb(193,193,193)"/><circle cx="27.2" cy="-74.0" r="0.67" fill="rgb(205,205,205)"/><circle cx="43.1" cy="-42.8" r="0.62" fill="rgb(205,205,205)"/><circle cx="3.8" cy="-9.9" r="1.07" fill="rgb(215,215,215)"/><circle cx="-25.2" cy="-49.7" r="0.75" fill="rgb(204,204,204)"/><circle cx="47.5" cy="-72.2" r="0.62" fill="rgb(194,194,194)"/><circle cx="15.5" cy="-84.0" r="1.08" fill="rgb(191,191,191)"/><circle cx="-26.9" cy="-84.7" r="0.79" fill="rgb(203,203,203)"/><circle cx="10.2" cy="-57.9" r="0.59" fill="rgb(212,212,212)"/><circle cx="46.7" cy="-29.3" r="1.02" fill="rgb(209,209,209)"/><circle cx="41.3" cy="-18.7" r="1.11" fill="rgb(215,215,215)"/><circle cx="-13.0" cy="-51.1" r="0.57" fill="rgb(220,220,220)"/><circle cx="-12.2" cy="-68.8" r="1.19" fill="rgb(208,208,208)"/><circle cx="-37.6" cy="-56.1" r="0.54" fill="rgb(180,180,180)"/><circle cx="5.6" cy="-39.4" r="1.16" fill="rgb(219,219,219)"/><circle cx="-52.3" cy="-10.7" r="0.93" fill="rgb(189,189,189)"/><circle cx="12.9" cy="-3.8" r="0.92" fill="rgb(210,210,210)"/><circle cx="-41.9" cy="-12.8" r="1.20" fill="rgb(209,209,209)"/><circle cx="-3.6" cy="-58.5" r="0.60" fill="rgb(201,201,201)"/><circle cx="24.2" cy="-44.3" r="0.98" fill="rgb(213,213,213)"/><circle cx="-52.5" cy="-4.2" r="0.87" fill="rgb(189,189,189)"/><circle cx="18.8" cy="-7.3" r="1.03" fill="rgb(199,199,199)"/><circle cx="49.7" cy="-11.6" r="0.99" fill="rgb(196,196,196)"/><circle cx="0.5" cy="-7.8" r="0.75" fill="rgb(194,194,194)"/><circle cx="2.0" cy="-18.8" r="0.73" fill="rgb(194,194,194)"/><circle cx="10.6" cy="-18.0" r="1.03" fill="rgb(192,192,192)"/><circle cx="31.3" cy="-15.4" r="1.02" fill="rgb(194,194,194)"/><circle cx="-33.6" cy="-43.1" r="1.01" fill="rgb(181,181,181)"/><circle cx="29.5" cy="-44.9" r="0.64" fill="rgb(218,218,218)"/><circle cx="47.3" cy="-47.0" r="1.16" fill="rgb(202,202,202)"/><circle cx="47.2" cy="-54.0" r="0.65" fill="rgb(194,194,194)"/><circle cx="-4.7" cy="-56.3" r="0.84" fill="rgb(219,219,219)"/><circle cx="34.9" cy="-44.2" r="0.96" fill="rgb(221,221,221)"/><circle cx="-45.9" cy="-28.9" r="1.14" fill="rgb(225,225,225)"/><circle cx="25.3" cy="-44.4" r="0.62" fill="rgb(220,220,220)"/><circle cx="-19.4" cy="-16.9" r="1.18" fill="rgb(205,205,205)"/><circle cx="-5.4" cy="-21.8" r="0.56" fill="rgb(190,190,190)"/><circle cx="-36.8" cy="-74.2" r="0.61" fill="rgb(209,209,209)"/><circle cx="31.3" cy="-72.6" r="1.08" fill="rgb(210,210,210)"/><circle cx="15.3" cy="-55.2" r="0.88" fill="rgb(188,188,188)"/><circle cx="-52.7" cy="-17.1" r="1.01" fill="rgb(186,186,186)"/><circle cx="1.3" cy="-5.6" r="0.80" fill="rgb(192,192,192)"/><circle cx="33.4" cy="-67.1" r="0.68" fill="rgb(198,198,198)"/><circle cx="-1.4" cy="-20.1" r="0.73" fill="rgb(214,214,214)"/><circle cx="-10.2" cy="-73.9" r="1.14" fill="rgb(202,202,202)"/><circle cx="41.1" cy="-28.7" r="1.07" fill="rgb(213,213,213)"/><circle cx="-10.0" cy="-7.0" r="0.85" fill="rgb(214,214,214)"/><circle cx="-38.8" cy="-41.6" r="1.11" fill="rgb(191,191,191)"/><circle cx="10.1" cy="-19.0" r="0.60" fill="rgb(189,189,189)"/><circle cx="-4.3" cy="-23.4" r="0.89" fill="rgb(200,200,200)"/><circle cx="18.0" cy="-39.9" r="0.84" fill="rgb(186,186,186)"/><circle cx="39.5" cy="-80.2" r="0.63" fill="rgb(182,182,182)"/><circle cx="27.6" cy="-41.8" r="0.89" fill="rgb(184,184,184)"/><circle cx="-7.6" cy="-32.9" r="0.85" fill="rgb(212,212,212)"/><circle cx="-33.7" cy="-61.4" r="0.86" fill="rgb(210,210,210)"/><circle cx="-0.7" cy="-63.9" r="0.87" fill="rgb(196,196,196)"/><circle cx="43.7" cy="-9.1" r="0.64" fill="rgb(208,208,208)"/><circle cx="-40.3" cy="-74.7" r="0.81" fill="rgb(184,184,184)"/><circle cx="16.8" cy="-48.6" r="0.65" fill="rgb(199,199,199)"/><circle cx="28.9" cy="-8.8" r="0.61" fill="rgb(225,225,225)"/><circle cx="13.9" cy="-53.9" r="0.68" fill="rgb(188,188,188)"/><circle cx="48.5" cy="-66.3" r="1.17" fill="rgb(205,205,205)"/><circle cx="39.7" cy="-71.2" r="0.97" fill="rgb(194,194,194)"/><circle cx="-37.7" cy="-48.3" r="0.86" fill="rgb(201,201,201)"/><circle cx="-9.9" cy="-54.7" r="0.56" fill="rgb(203,203,203)"/><circle cx="-52.9" cy="-37.9" r="0.81" fill="rgb(181,181,181)"/><circle cx="-13.9" cy="-41.0" r="0.71" fill="rgb(184,184,184)"/><circle cx="-42.9" cy="-6.9" r="0.66" fill="rgb(186,186,186)"/><circle cx="-46.0" cy="-61.9" r="1.13" fill="rgb(191,191,191)"/><circle cx="-26.1" cy="-74.0" r="0.80" fill="rgb(223,223,223)"/><circle cx="32.6" cy="-63.0" r="0.60" fill="rgb(212,212,212)"/><circle cx="6.1" cy="-25.5" r="0.56" fill="rgb(183,183,183)"/><circle cx="30.6" cy="-69.4" r="1.13" fill="rgb(197,197,197)"/><circle cx="45.4" cy="-31.1" r="1.06" fill="rgb(185,185,185)"/><circle cx="10.1" cy="-66.1" r="0.69" fill="rgb(187,187,187)"/><circle cx="-6.4" cy="-56.2" r="0.89" fill="rgb(197,197,197)"/><circle cx="11.5" cy="-81.3" r="1.00" fill="rgb(187,187,187)"/><circle cx="48.7" cy="-62.7" r="0.63" fill="rgb(199,199,199)"/><circle cx="12.3" cy="-39.9" r="0.64" fill="rgb(208,208,208)"/><circle cx="-1.5" cy="-69.9" r="0.74" fill="rgb(181,181,181)"/><circle cx="51.4" cy="-81.9" r="0.51" fill="rgb(212,212,212)"/><circle cx="4.0" cy="-68.9" r="0.83" fill="rgb(208,208,208)"/><circle cx="-43.6" cy="-15.4" r="0.80" fill="rgb(211,211,211)"/><circle cx="3.4" cy="-9.5" r="1.18" fill="rgb(199,199,199)"/><circle cx="18.6" cy="-1.5" r="0.74" fill="rgb(225,225,225)"/><circle cx="23.0" cy="-73.1" r="1.19" fill="rgb(183,183,183)"/><circle cx="34.6" cy="-83.8" r="0.94" fill="rgb(196,196,196)"/><circle cx="-8.9" cy="-80.3" r="0.97" fill="rgb(204,204,204)"/><circle cx="38.1" cy="-28.0" r="0.70" fill="rgb(195,195,195)"/><circle cx="19.1" cy="-81.2" r="0.63" fill="rgb(197,197,197)"/><circle cx="-7.3" cy="-62.6" r="1.17" fill="rgb(215,215,215)"/><circle cx="-20.4" cy="-82.1" r="1.12" fill="rgb(193,193,193)"/><circle cx="-16.8" cy="-84.9" r="0.77" fill="rgb(210,210,210)"/><circle cx="-25.2" cy="-29.2" r="0.67" fill="rgb(180,180,180)"/><circle cx="-45.3" cy="-15.6" r="0.60" fill="rgb(217,217,217)"/><circle cx="-50.5" cy="-83.1" r="0.71" fill="rgb(194,194,194)"/><circle cx="-46.0" cy="-3.6" r="1.10" fill="rgb(189,189,189)"/><circle cx="15.4" cy="-24.1" r="1.12" fill="rgb(204,204,204)"/><circle cx="26.8" cy="-23.7" r="0.85" fill="rgb(198,198,198)"/><circle cx="22.5" cy="-30.3" r="0.53" fill="rgb(225,225,225)"/><circle cx="40.4" cy="-31.7" r="1.01" fill="rgb(212,212,212)"/><circle cx="-40.1" cy="-40.5" r="0.85" fill="rgb(181,181,181)"/><circle cx="33.4" cy="-35.4" r="1.12" fill="rgb(223,223,223)"/><circle cx="47.3" cy="-30.4" r="0.56" fill="rgb(182,182,182)"/><circle cx="-40.8" cy="-54.3" r="0.57" fill="rgb(208,208,208)"/><circle cx="4.8" cy="-31.6" r="0.94" fill="rgb(223,223,223)"/><circle cx="-28.8" cy="-62.6" r="0.82" fill="rgb(184,184,184)"/><circle cx="25.1" cy="-42.2" r="0.87" fill="rgb(222,222,222)"/><circle cx="1.3" cy="-21.6" r="0.83" fill="rgb(184,184,184)"/><circle cx="35.5" cy="-65.0" r="1.03" fill="rgb(194,194,194)"/><circle cx="24.2" cy="-2.1" r="0.85" fill="rgb(204,204,204)"/><circle cx="-46.8" cy="-7.6" r="0.70" fill="rgb(182,182,182)"/><circle cx="11.0" cy="-30.4" r="0.55" fill="rgb(189,189,189)"/><circle cx="-19.5" cy="-29.6" r="0.99" fill="rgb(219,219,219)"/><circle cx="5.8" cy="-83.9" r="0.54" fill="rgb(197,197,197)"/><circle cx="49.1" cy="-76.5" r="0.65" fill="rgb(211,211,211)"/><circle cx="-23.9" cy="-41.1" r="0.83" fill="rgb(209,209,209)"/><circle cx="27.1" cy="-0.6" r="0.88" fill="rgb(199,199,199)"/><circle cx="49.7" cy="-5.4" r="0.51" fill="rgb(209,209,209)"/><circle cx="-46.8" cy="-41.9" r="1.20" fill="rgb(197,197,197)"/><circle cx="-13.6" cy="-7.1" r="1.15" fill="rgb(184,184,184)"/><circle cx="7.2" cy="-73.0" r="0.87" fill="rgb(203,203,203)"/><circle cx="-40.8" cy="-15.3" r="0.86" fill="rgb(187,187,187)"/><circle cx="20.3" cy="-65.3" r="1.13" fill="rgb(211,211,211)"/><circle cx="-12.8" cy="-71.5" r="1.16" fill="rgb(223,223,223)"/><circle cx="-6.8" cy="-59.3" r="0.60" fill="rgb(202,202,202)"/><circle cx="-14.8" cy="-74.7" r="0.73" fill="rgb(200,200,200)"/><circle cx="25.3" cy="-13.7" r="0.58" fill="rgb(192,192,192)"/><circle cx="21.3" cy="-8.4" r="0.70" fill="rgb(203,203,203)"/><circle cx="-48.0" cy="-51.8" r="1.11" fill="rgb(184,184,184)"/><circle cx="-16.4" cy="-48.6" r="0.69" fill="rgb(183,183,183)"/><circle cx="-25.0" cy="-80.6" r="0.96" fill="rgb(220,220,220)"/><circle cx="45.1" cy="-63.8" r="0.69" fill="rgb(212,212,212)"/><circle cx="-21.2" cy="-19.3" r="1.05" fill="rgb(207,207,207)"/><circle cx="39.6" cy="-16.0" r="0.94" fill="rgb(215,215,215)"/><circle cx="3.8" cy="-23.8" r="0.53" fill="rgb(206,206,206)"/><circle cx="-6.8" cy="-21.0" r="0.95" fill="rgb(198,198,198)"/><circle cx="-3.0" cy="-7.5" r="0.89" fill="rgb(190,190,190)"/><circle cx="-4.5" cy="-55.8" r="0.71" fill="rgb(221,221,221)"/><circle cx="-27.2" cy="-29.2" r="0.71" fill="rgb(215,215,215)"/><circle cx="16.6" cy="-74.8" r="0.95" fill="rgb(184,184,184)"/><circle cx="-32.8" cy="-8.0" r="0.85" fill="rgb(194,194,194)"/><circle cx="-6.5" cy="-56.7" r="1.03" fill="rgb(207,207,207)"/><circle cx="-40.1" cy="-68.6" r="0.56" fill="rgb(201,201,201)"/><circle cx="4.5" cy="-57.9" r="0.76" fill="rgb(216,216,216)"/><circle cx="-33.4" cy="-83.3" r="1.11" fill="rgb(204,204,204)"/><circle cx="-10.7" cy="-40.4" r="0.76" fill="rgb(201,201,201)"/><circle cx="25.5" cy="-42.7" r="0.90" fill="rgb(203,203,203)"/><circle cx="-41.5" cy="-42.2" r="0.94" fill="rgb(193,193,193)"/><circle cx="-45.1" cy="-8.8" r="0.77" fill="rgb(221,221,221)"/><circle cx="-7.3" cy="-3.9" r="1.09" fill="rgb(181,181,181)"/><circle cx="-41.4" cy="-48.9" r="1.03" fill="rgb(210,210,210)"/><circle cx="48.6" cy="-43.4" r="0.55" fill="rgb(213,213,213)"/><circle cx="36.5" cy="-2.4" r="0.67" fill="rgb(186,186,186)"/><circle cx="-31.1" cy="-72.1" r="1.18" fill="rgb(186,186,186)"/><circle cx="45.7" cy="-23.7" r="0.95" fill="rgb(209,209,209)"/><circle cx="-45.9" cy="-19.0" r="0.50" fill="rgb(188,188,188)"/><circle cx="-30.1" cy="-6.8" r="0.95" fill="rgb(199,199,199)"/><circle cx="48.0" cy="-31.7" r="0.87" fill="rgb(207,207,207)"/><circle cx="19.7" cy="-75.5" r="0.55" fill="rgb(213,213,213)"/><circle cx="46.0" cy="-68.7" r="0.68" fill="rgb(218,218,218)"/><circle cx="-54.9" cy="-39.3" r="1.20" fill="rgb(197,197,197)"/><circle cx="47.6" cy="-30.2" r="1.12" fill="rgb(210,210,210)"/><circle cx="1.3" cy="-38.5" r="0.52" fill="rgb(206,206,206)"/><circle cx="20.4" cy="-58.9" r="0.52" fill="rgb(211,211,211)"/><circle cx="39.7" cy="-30.0" r="0.56" fill="rgb(194,194,194)"/><circle cx="16.4" cy="-6.4" r="0.66" fill="rgb(182,182,182)"/><circle cx="19.5" cy="-23.9" r="0.75" fill="rgb(205,205,205)"/><circle cx="-33.8" cy="-17.2" r="1.02" fill="rgb(212,212,212)"/><circle cx="-47.8" cy="-42.9" r="0.64" fill="rgb(192,192,192)"/><circle cx="-30.3" cy="-66.2" r="1.03" fill="rgb(198,198,198)"/><circle cx="-43.3" cy="-32.0" r="0.93" fill="rgb(194,194,194)"/><circle cx="-3.1" cy="-7.6" r="0.54" fill="rgb(218,218,218)"/><circle cx="-39.3" cy="-51.6" r="0.65" fill="rgb(218,218,218)"/><circle cx="-39.8" cy="-80.6" r="0.54" fill="rgb(205,205,205)"/><circle cx="-6.9" cy="-24.5" r="0.72" fill="rgb(187,187,187)"/><circle cx="51.7" cy="-5.8" r="0.73" fill="rgb(191,191,191)"/><circle cx="14.8" cy="-40.4" r="0.83" fill="rgb(199,199,199)"/><circle cx="16.1" cy="-52.8" r="0.76" fill="rgb(201,201,201)"/><circle cx="-7.7" cy="-75.7" r="0.55" fill="rgb(185,185,185)"/><circle cx="-17.4" cy="-3.8" r="0.59" fill="rgb(193,193,193)"/><circle cx="-14.3" cy="-19.7" r="0.72" fill="rgb(207,207,207)"/><circle cx="-45.6" cy="-25.1" r="0.64" fill="rgb(214,214,214)"/><circle cx="43.4" cy="-68.6" r="0.75" fill="rgb(210,210,210)"/><circle cx="-51.8" cy="-50.1" r="1.07" fill="rgb(205,205,205)"/><circle cx="-50.7" cy="-82.0" r="0.54" fill="rgb(183,183,183)"/><circle cx="-27.5" cy="-21.5" r="1.13" fill="rgb(201,201,201)"/><circle cx="-16.2" cy="-56.5" r="1.17" fill="rgb(182,182,182)"/><circle cx="-26.9" cy="-24.1" r="0.72" fill="rgb(197,197,197)"/><circle cx="-23.2" cy="-23.7" r="0.92" fill="rgb(220,220,220)"/><circle cx="46.3" cy="-79.4" r="1.08" fill="rgb(186,186,186)"/><circle cx="-4.2" cy="-3.7" r="1.17" fill="rgb(204,204,204)"/><circle cx="29.5" cy="-7.3" r="1.07" fill="rgb(188,188,188)"/><circle cx="44.3" cy="-69.5" r="1.06" fill="rgb(199,199,199)"/><circle cx="33.0" cy="-19.3" r="0.93" fill="rgb(200,200,200)"/><circle cx="37.2" cy="-45.8" r="1.05" fill="rgb(218,218,218)"/><circle cx="-46.5" cy="-68.2" r="1.03" fill="rgb(195,195,195)"/><circle cx="-11.4" cy="-29.8" r="0.84" fill="rgb(214,214,214)"/><circle cx="-20.1" cy="-1.7" r="1.12" fill="rgb(184,184,184)"/><circle cx="-26.7" cy="-77.9" r="0.57" fill="rgb(211,211,211)"/><circle cx="50.8" cy="-2.4" r="0.62" fill="rgb(188,188,188)"/><circle cx="-10.4" cy="-32.3" r="0.97" fill="rgb(214,214,214)"/><circle cx="35.6" cy="-28.5" r="0.58" fill="rgb(198,198,198)"/><circle cx="-23.6" cy="-36.8" r="0.76" fill="rgb(196,196,196)"/><circle cx="-33.7" cy="-64.0" r="0.67" fill="rgb(189,189,189)"/><circle cx="-24.9" cy="-7.9" r="0.63" fill="rgb(184,184,184)"/><circle cx="-12.6" cy="-0.6" r="0.86" fill="rgb(194,194,194)"/><circle cx="14.5" cy="-76.5" r="0.82" fill="rgb(182,182,182)"/><circle cx="-44.1" cy="-44.6" r="1.07" fill="rgb(208,208,208)"/><circle cx="42.8" cy="-81.6" r="0.71" fill="rgb(187,187,187)"/><circle cx="-49.6" cy="-34.0" r="1.08" fill="rgb(192,192,192)"/><circle cx="44.5" cy="-53.4" r="1.11" fill="rgb(208,208,208)"/><circle cx="9.5" cy="-19.1" r="0.97" fill="rgb(180,180,180)"/><circle cx="-43.7" cy="-34.3" r="0.93" fill="rgb(193,193,193)"/><circle cx="-51.0" cy="-56.1" r="0.53" fill="rgb(196,196,196)"/><circle cx="-50.9" cy="-22.8" r="1.14" fill="rgb(180,180,180)"/><circle cx="32.6" cy="-50.2" r="0.76" fill="rgb(219,219,219)"/><circle cx="-21.6" cy="-67.7" r="1.06" fill="rgb(215,215,215)"/><circle cx="-3.3" cy="-50.3" r="1.06" fill="rgb(222,222,222)"/><circle cx="3.9" cy="-30.7" r="0.56" fill="rgb(190,190,190)"/><circle cx="-12.4" cy="-62.0" r="1.19" fill="rgb(222,222,222)"/><circle cx="-22.1" cy="-4.0" r="0.72" fill="rgb(216,216,216)"/><circle cx="39.6" cy="-49.8" r="0.51" fill="rgb(203,203,203)"/><circle cx="14.0" cy="-51.8" r="0.78" fill="rgb(180,180,180)"/><circle cx="-8.5" cy="-71.7" r="0.58" fill="rgb(185,185,185)"/><circle cx="-11.5" cy="-10.0" r="0.82" fill="rgb(190,190,190)"/><circle cx="-41.1" cy="-80.6" r="0.60" fill="rgb(205,205,205)"/><circle cx="-45.5" cy="-32.1" r="0.76" fill="rgb(212,212,212)"/><circle cx="-36.6" cy="-55.4" r="0.61" fill="rgb(190,190,190)"/><circle cx="44.0" cy="-75.8" r="0.84" fill="rgb(192,192,192)"/><circle cx="-22.7" cy="-13.8" r="0.53" fill="rgb(210,210,210)"/><circle cx="-21.3" cy="-33.4" r="0.95" fill="rgb(185,185,185)"/><circle cx="41.8" cy="-32.3" r="1.08" fill="rgb(190,190,190)"/><circle cx="13.5" cy="-12.2" r="0.93" fill="rgb(219,219,219)"/><circle cx="35.6" cy="-14.5" r="0.63" fill="rgb(193,193,193)"/><circle cx="-50.5" cy="-5.2" r="0.61" fill="rgb(202,202,202)"/><circle cx="-41.8" cy="-64.0" r="1.01" fill="rgb(192,192,192)"/><circle cx="-50.6" cy="-37.2" r="1.03" fill="rgb(182,182,182)"/><circle cx="16.5" cy="-57.4" r="0.77" fill="rgb(209,209,209)"/><circle cx="3.9" cy="-31.7" r="0.71" fill="rgb(206,206,206)"/><circle cx="-22.0" cy="-63.8" r="0.77" fill="rgb(203,203,203)"/><circle cx="-7.2" cy="-47.7" r="0.52" fill="rgb(219,219,219)"/><circle cx="50.5" cy="-45.5" r="0.81" fill="rgb(219,219,219)"/><circle cx="28.5" cy="-46.0" r="0.63" fill="rgb(210,210,210)"/><circle cx="-12.2" cy="-79.3" r="0.75" fill="rgb(203,203,203)"/><circle cx="-45.2" cy="-47.4" r="0.86" fill="rgb(182,182,182)"/><circle cx="-50.7" cy="-73.9" r="1.15" fill="rgb(200,200,200)"/><circle cx="28.2" cy="-41.5" r="0.54" fill="rgb(212,212,212)"/><circle cx="40.8" cy="-29.5" r="1.05" fill="rgb(181,181,181)"/><circle cx="36.7" cy="-0.3" r="1.01" fill="rgb(187,187,187)"/><circle cx="-34.3" cy="-1.6" r="0.84" fill="rgb(190,190,190)"/><circle cx="18.4" cy="-23.7" r="0.65" fill="rgb(202,202,202)"/><circle cx="10.3" cy="-63.6" r="0.73" fill="rgb(219,219,219)"/><circle cx="-25.6" cy="-15.7" r="0.60" fill="rgb(212,212,212)"/><circle cx="48.2" cy="-44.2" r="0.91" fill="rgb(219,219,219)"/><circle cx="-0.9" cy="-57.9" r="0.53" fill="rgb(191,191,191)"/><circle cx="-11.8" cy="-30.9" r="0.69" fill="rgb(200,200,200)"/><circle cx="40.8" cy="-70.7" r="1.05" fill="rgb(187,187,187)"/><path d="M-52 -55.5 A51 23 0 0 1 49.5 -55.5" fill="none" stroke="#bbb" stroke-width="1.2"/><path d="M11 -78 L11.5 -31" fill="none" stroke="#bdbdbd" stroke-width="3.8"/></g><path d="M-53.9 -2 L-51.6 -158 C-51.4 -171, -49.5 -178, -45.2 -182.45 A50.2 25.4 0 0 1 48.45 -169.75 L48.9 -166.8" fill="none" stroke="#1c1c1c" stroke-width="2.6"/><path d="M50.8 -144 L50.2 -2" fill="none" stroke="#1c1c1c" stroke-width="2.6"/><path d="M-53.6 -57.3 A52.3 24.3 0 0 1 51 -57.3" fill="none" stroke="#1c1c1c" stroke-width="2.2"/><path d="M41 -70 L41 -20" fill="none" stroke="#1c1c1c" stroke-width="2"/><path d="M45 -150 L46.5 -75" fill="none" stroke="#d6d6d6" stroke-width="2"/><g transform="translate(-1.84 -1.94)"><ellipse cx="0" cy="0" rx="52" ry="28.5" fill="#fff" stroke="none"/><path d="M-52 0 A52 28.5 0 0 0 52 0" fill="none" stroke="#2a2a2a" stroke-width="2.1"/><path d="M-52 0 A52 28.5 0 0 1 52 0" fill="none" stroke="#8a8a8a" stroke-width="1.6"/><ellipse cx="0" cy="0" rx="46.5" ry="25" fill="none" stroke="#333" stroke-width="1.8"/><ellipse cx="0" cy="0" rx="40" ry="19.5" fill="none" stroke="#333" stroke-width="6.8" stroke-dasharray="2.4 1.9"/><ellipse cx="0" cy="0" rx="43.5" ry="22.5" fill="none" stroke="#777" stroke-width="1"/><ellipse cx="0" cy="0" rx="31" ry="13.5" fill="none" stroke="#888" stroke-width="1.2"/></g></g>
<circle cx="228.9" cy="516.6" r="6.8" fill="none" stroke="#555" stroke-width="1.6"/>
<path d="M222.5 519 A6.8 6.8 0 0 1 226 510.5" fill="none" stroke="#222" stroke-width="2"/>
<circle cx="251.6" cy="524" r="7.2" fill="none" stroke="#999" stroke-width="1.2"/>
<path d="M243.7 524.9 Q248.5 531 254.5 530.6 Q260 530 259.2 523.5" fill="none" stroke="#222" stroke-width="2.4"/>
<path d="M246 536 Q258 538 268 531" fill="none" stroke="#888" stroke-width="1.4"/>
<path d="M250 540.5 Q262 542 272 535" fill="none" stroke="#999" stroke-width="1.2"/>
</svg>
</body></html>
